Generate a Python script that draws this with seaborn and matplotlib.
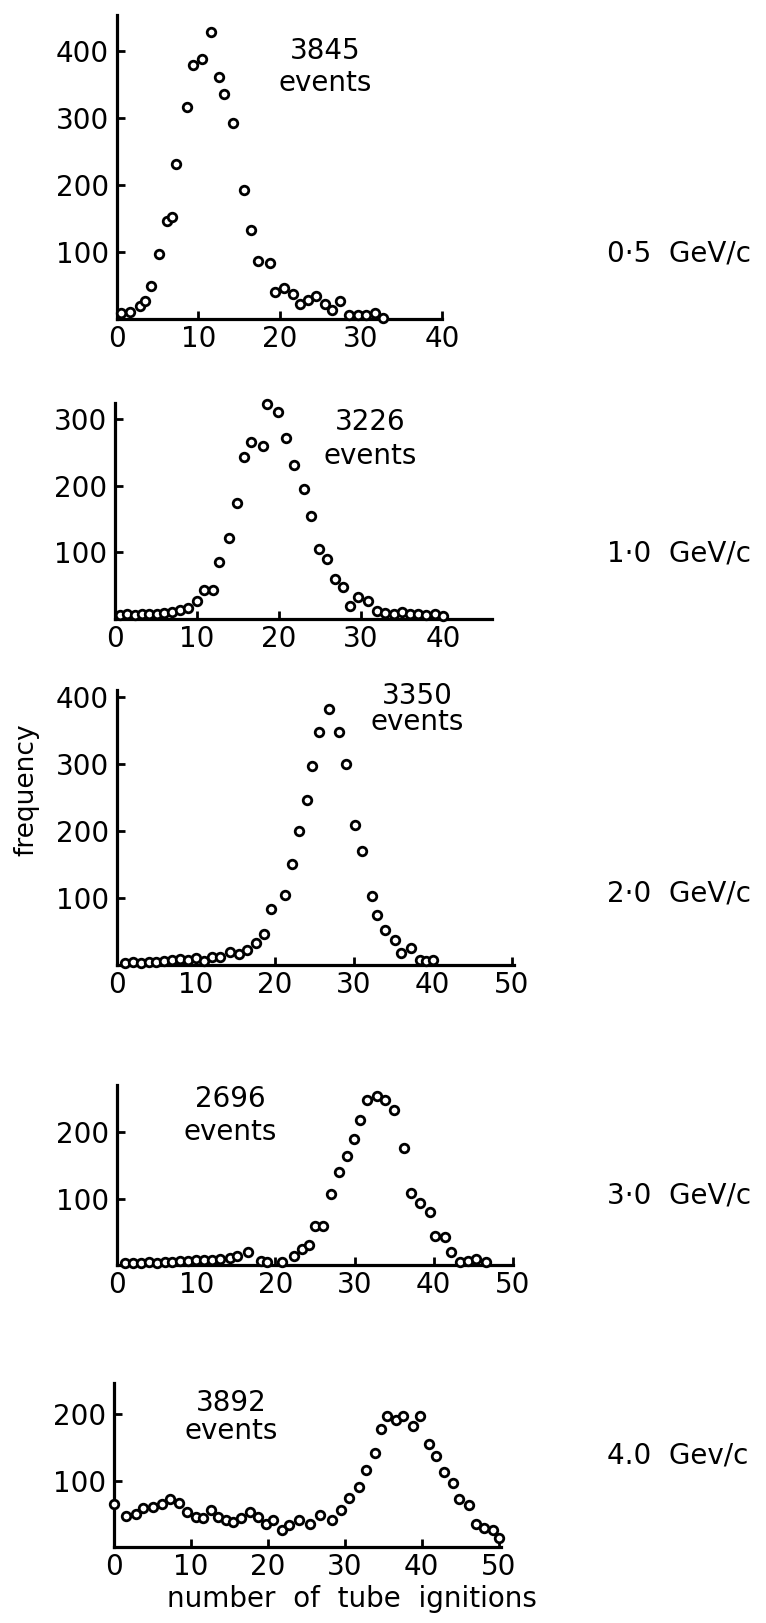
import matplotlib
matplotlib.use('Agg')
import matplotlib.pyplot as plt
import seaborn as sns

# frequency vs number of tube ignitions, one panel per beam momentum
x_05 = [0.5, 1.6, 2.8, 3.4, 4.2, 5.2, 6.1, 6.8, 7.2, 8.6, 9.3, 10.4, 11.6, 12.5, 13.2, 14.3, 15.6,
        16.5, 17.4, 18.8, 19.4, 20.6, 21.7, 22.5, 23.5, 24.5, 25.6, 26.5, 27.5, 28.6, 29.7, 30.7,
        31.7, 32.7]
y_05 = [9, 11, 20, 27, 50, 97, 146, 153, 232, 317, 379, 388, 428, 361, 336, 292, 192,
        133, 86, 84, 40, 46, 37, 23, 28, 35, 23, 14, 27, 6, 6, 6,
        9, 2]

x_10 = [0.6, 1.5, 2.4, 3.3, 4.2, 5.1, 6.0, 6.9, 7.9, 8.9, 10.0, 10.9, 12.0, 12.7, 13.9, 14.9,
        15.7, 16.6, 18.0, 18.6, 19.9, 20.9, 21.8, 23.0, 23.9, 24.9, 25.9, 26.8, 27.8, 28.7,
        29.7, 30.9, 32.0, 33.0, 34.0, 35.0, 36.0, 37.0, 38.0, 39.0, 40.0]
y_10 = [6, 7, 6, 8, 7, 8, 9, 11, 14, 16, 27, 44, 43, 85, 121, 174,
        243, 265, 260, 323, 310, 271, 231, 195, 155, 105, 90, 60, 48, 20,
        33, 27, 12, 9, 8, 10, 7, 8, 6, 7, 5]

x_20 = [1, 2, 3, 4, 5, 6, 7, 8, 9, 10, 11, 12, 13, 14.3, 15.5, 16.5, 17.6, 18.6, 19.5, 21.3,
        22.2, 23.0, 24.1, 24.7, 25.6, 26.8, 28.1, 29.0, 30.1, 31.1, 32.3, 32.9, 34.0, 35.2,
        36.0, 37.2, 38.4, 39.2, 40.0]
y_20 = [3, 4, 3, 5, 4, 6, 8, 9, 7, 10, 6, 12, 12, 20, 17, 22, 33, 46, 83, 104,
        151, 200, 246, 296, 348, 381, 347, 300, 209, 170, 103, 75, 52, 37,
        18, 26, 7, 6, 7]

x_30 = [1, 2, 3, 4, 5, 6, 7, 8, 9, 10, 11, 12, 13, 14.3, 15.1, 16.6, 18.2, 18.9, 20.8, 22.3,
        23.3, 24.2, 25.0, 26.0, 27.0, 28.0, 29.0, 29.9, 30.7, 31.6, 32.8, 33.9, 35.0, 36.2,
        37.1, 38.2, 39.5, 40.1, 41.4, 42.2, 43.3, 44.3, 45.3, 46.6]
y_30 = [3, 3, 3, 4, 3, 4, 4, 6, 6, 8, 7, 8, 9, 10, 14, 20, 6, 4, 4, 14,
        24, 30, 58, 59, 107, 140, 164, 189, 219, 249, 254, 249, 233, 176,
        109, 94, 80, 44, 42, 20, 5, 6, 9, 5]

x_40 = [0.0, 1.5, 2.8, 3.8, 5.1, 6.3, 7.3, 8.5, 9.5, 10.7, 11.6, 12.6, 13.5, 14.6, 15.5, 16.5,
        17.7, 18.7, 19.8, 20.7, 21.9, 22.8, 24.0, 25.5, 26.8, 28.3, 29.5, 30.6, 31.8, 32.8,
        33.9, 34.7, 35.5, 36.6, 37.6, 38.8, 39.8, 41.0, 41.9, 42.9, 44.1, 44.8, 46.2, 47.0,
        48.1, 49.2, 50.1]
y_40 = [65, 46, 50, 58, 60, 65, 73, 66, 53, 45, 43, 56, 45, 41, 38, 43,
        53, 45, 34, 41, 26, 33, 41, 35, 48, 41, 56, 74, 91, 116,
        142, 177, 197, 191, 198, 182, 197, 155, 137, 113, 96, 73, 64, 35,
        28, 26, 14]

momenta = ['0·5  GeV/c', '1·0  GeV/c', '2·0  GeV/c', '3·0  GeV/c', '4.0  Gev/c']
events = ['3845', '3226', '3350', '2696', '3892']
xticks = [[0, 10, 20, 30, 40], [0, 10, 20, 30, 40], [0, 10, 20, 30, 40, 50],
          [0, 10, 20, 30, 40, 50], [0, 10, 20, 30, 40, 50]]
yticks = [[100, 200, 300, 400], [100, 200, 300], [100, 200, 300, 400],
          [100, 200], [100, 200]]

xs = [x_05, x_10, x_20, x_30, x_40]
ys = [y_05, y_10, y_20, y_30, y_40]

# layout in pixels: left, right, bottom, top, xmax, ymax
boxes = [(117, 442, 319, 15, 40, 454),
         (115, 492, 619, 403, 46, 324),
         (117, 514, 965, 690, 50.3, 410),
         (117, 513, 1265, 1085, 50, 271),
         (114, 501, 1547, 1383, 50.3, 247)]
text_pos = [(25.6, 376, 1.2), (31.1, 270, 1.25), (38.0, 382, 0.9),
            (14.3, 225, 1.25), (15.2, 196, 1.0)]
label_y = [253, 553, 893, 1196, 1455]

sns.set_style('ticks')
plt.rcParams['font.family'] = ['DejaVu Sans']
plt.rcParams['text.color'] = 'black'
plt.rcParams['axes.labelcolor'] = 'black'

W, H = 766, 1623
fig = plt.figure(figsize=(W / 100, H / 100), dpi=100)

for i in range(5):
    l, r, b, t, xmax, ymax = boxes[i]
    ax = fig.add_axes([l / W, 1 - b / H, (r - l) / W, (b - t) / H])
    sns.scatterplot(x=xs[i], y=ys[i], ax=ax, s=38, facecolor='white',
                    edgecolor='black', linewidth=2.0, clip_on=False, zorder=3)
    ax.set_xlim(0, xmax)
    ax.set_ylim(0, ymax)
    ax.set_xticks(xticks[i])
    ax.set_yticks(yticks[i])
    ax.tick_params(axis='both', direction='in', length=6, width=2,
                   labelsize=20, colors='black')
    ax.tick_params(axis='y', pad=6)
    ax.tick_params(axis='x', pad=4)
    sns.despine(ax=ax)
    for side in ['left', 'bottom']:
        ax.spines[side].set_linewidth(2.3)
        ax.spines[side].set_color('black')
    tx, ty, ls = text_pos[i]
    ax.text(tx, ty, events[i] + '\nevents', ha='center', va='center',
            fontsize=20, linespacing=ls, color='black')
    fig.text(607 / W, 1 - label_y[i] / H, momenta[i], ha='left', va='center',
             fontsize=20, color='black')

fig.text(26 / W, 1 - 790 / H, 'frequency', rotation=90, ha='center',
         va='center', fontsize=19, color='black')
fig.text(352 / W, 1 - 1599 / H, 'number  of  tube  ignitions', ha='center',
         va='center', fontsize=20, color='black')

fig.savefig('out.png', dpi=100, facecolor='white')
